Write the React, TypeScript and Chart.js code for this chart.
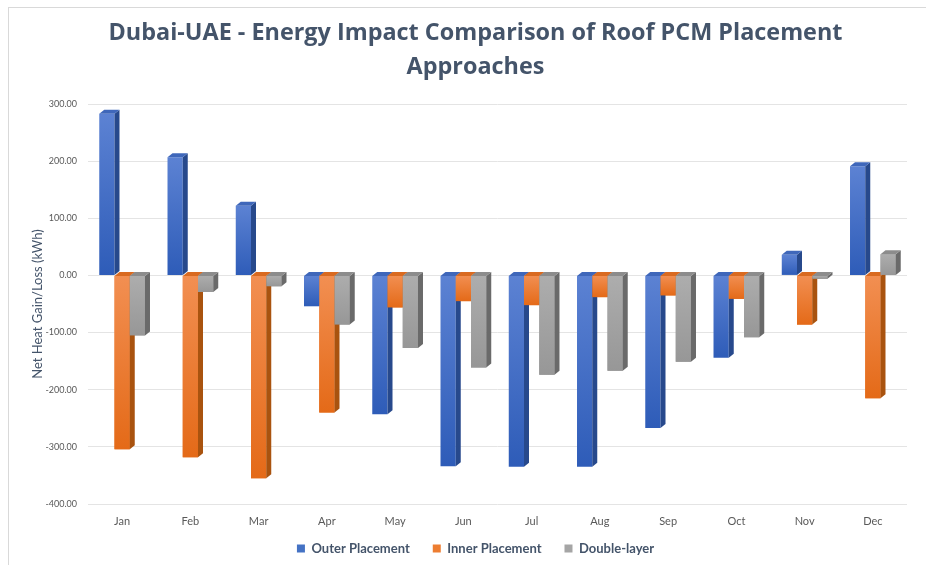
import React, { useEffect, useRef } from "react";
import { Chart, registerables } from "chart.js";

Chart.register(...registerables);

const months = ["Jan", "Feb", "Mar", "Apr", "May", "Jun", "Jul", "Aug", "Sep", "Oct", "Nov", "Dec"];
const outerPlacement = [283, 207, 122, -54, -243, -334, -335, -335, -267, -144, 36, 191];
const innerPlacement = [-304, -318, -355, -240, -56, -45, -52, -38, -35, -41, -86, -215];
const doubleLayer = [-105, -29, -19, -86, -127, -161, -174, -167, -151, -108, -6, 37];
const seriesNames = ["Outer Placement", "Inner Placement", "Double-layer"];
const titleLines = ["Dubai-UAE - Energy Impact Comparison of Roof PCM Placement", "Approaches"];
const yAxisTitle = "Net Heat Gain/Loss (kWh)";
const yMin = -400;
const yMax = 300;

const frontTop = ["#5C82D3", "#F28F52", "#ADADAD"];
const frontBottom = ["#2E5CB8", "#E46A18", "#979797"];
const sideColors = ["#27498C", "#A9530F", "#6A6A6A"];
const topColors = ["#3F67BA", "#D96A20", "#8C8C8C"];
const legendColors = ["#4472C4", "#ED7D31", "#A5A5A5"];

const FONT = "Lato, 'Open Sans', sans-serif";
const TITLE_FONT = "'Open Sans', Lato, sans-serif";

function gradientFor(i: number) {
  return (c: any) => {
    const chart = c.chart;
    const y = chart.scales && chart.scales.y;
    if (!chart.chartArea || !y || c.raw === undefined) return legendColors[i];
    const p0 = y.getPixelForValue(0);
    const p1 = y.getPixelForValue(c.raw);
    const t = Math.min(p0, p1);
    const b = Math.max(p0, p1);
    if (b - t < 1) return frontTop[i];
    const g = chart.ctx.createLinearGradient(0, t, 0, b);
    g.addColorStop(0, frontTop[i]);
    g.addColorStop(1, frontBottom[i]);
    return g;
  };
}

const frame = {
  id: "frame",
  beforeDraw(chart: any) {
    const ctx = chart.ctx;
    ctx.save();
    ctx.fillStyle = "#FFFFFF";
    ctx.fillRect(0, 0, chart.width, chart.height);
    ctx.strokeStyle = "#D9D9D9";
    ctx.lineWidth = 1;
    ctx.strokeRect(8.5, 7.5, chart.width + 20, chart.height + 20);
    ctx.restore();
  },
};

const depth3d = {
  id: "depth3d",
  afterDatasetsDraw(chart: any) {
    const ctx = chart.ctx;
    const dx = 5;
    const dy = 4;
    ctx.save();
    for (let i = 0; i < chart.data.datasets.length; i++) {
      const meta = chart.getDatasetMeta(i);
      meta.data.forEach((el: any) => {
        if (i > 0) el.draw(ctx);
        const { x, y, base, width } = el.getProps(["x", "y", "base", "width"], true);
        const l = x - width / 2;
        const r = x + width / 2;
        const t = Math.min(y, base);
        const b = Math.max(y, base);
        ctx.fillStyle = sideColors[i];
        ctx.beginPath();
        ctx.moveTo(r, t);
        ctx.lineTo(r + dx, t - dy);
        ctx.lineTo(r + dx, b - dy);
        ctx.lineTo(r, b);
        ctx.closePath();
        ctx.fill();
        ctx.fillStyle = topColors[i];
        ctx.beginPath();
        ctx.moveTo(l, t);
        ctx.lineTo(l + dx, t - dy);
        ctx.lineTo(r + dx, t - dy);
        ctx.lineTo(r, t);
        ctx.closePath();
        ctx.fill();
      });
    }
    ctx.restore();
  },
};

export default function App() {
  const ref = useRef<HTMLCanvasElement | null>(null);

  useEffect(() => {
    if (!ref.current) return;
    const series = [outerPlacement, innerPlacement, doubleLayer];
    const chart = new Chart(ref.current, {
      type: "bar",
      data: {
        labels: months,
        datasets: series.map((d, i) => ({
          label: seriesNames[i],
          data: d,
          backgroundColor: gradientFor(i) as any,
          borderWidth: 0,
          barPercentage: 1,
          categoryPercentage: 0.67,
        })),
      },
      options: {
        responsive: false,
        animation: false,
        layout: { padding: { left: 44, right: 19, top: 0, bottom: 0 } },
        plugins: {
          title: {
            display: true,
            text: titleLines,
            color: "#44546A",
            font: { family: TITLE_FONT, size: 23.4, weight: "bold", lineHeight: 1.453 },
            padding: { top: 16, bottom: 20 },
          },
          legend: {
            position: "bottom",
            labels: {
              color: "#44546A",
              font: { family: FONT, size: 13, weight: "bold" },
              boxWidth: 8,
              boxHeight: 8,
              padding: 10,
              generateLabels: (ch: any) =>
                ch.data.datasets.map((ds: any, i: number, arr: any[]) => ({
                  text: i < arr.length - 1 ? ds.label + "\u2002\u2002" : ds.label,
                  fillStyle: legendColors[i],
                  strokeStyle: legendColors[i],
                  lineWidth: 0,
                  fontColor: "#44546A",
                  datasetIndex: i,
                  hidden: false,
                })),
            },
          },
          tooltip: { enabled: false },
        },
        scales: {
          x: {
            grid: { display: false, drawTicks: false },
            border: { display: false },
            ticks: { color: "#595959", font: { family: FONT, size: 11 }, padding: 11 },
            afterFit: (s: any) => {
              s.height = 28;
            },
          },
          y: {
            min: yMin,
            max: yMax,
            grid: { color: "#E4E4E4", drawTicks: false },
            border: { display: false },
            ticks: {
              stepSize: 100,
              color: "#595959",
              font: { family: FONT, size: 9 },
              padding: 11,
              callback: (v: any) => Number(v).toFixed(2),
            },
            title: {
              display: true,
              text: yAxisTitle,
              color: "#44546A",
              font: { family: FONT, size: 13 },
              padding: { top: -14, bottom: 0 },
            },
            afterFit: (s: any) => {
              s.width = 44;
            },
          },
        },
      },
      plugins: [frame, depth3d],
    });
    return () => chart.destroy();
  }, []);

  return (
    <div style={{ position: "absolute", left: 0, top: 0, width: 926, height: 565 }}>
      <canvas ref={ref} width={926} height={565} />
    </div>
  );
}
